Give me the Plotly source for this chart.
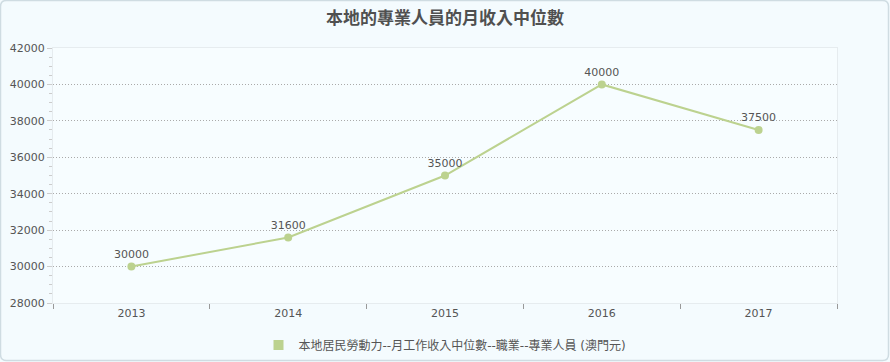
import plotly.graph_objects as go

years = ["2013", "2014", "2015", "2016", "2017"]
values = [30000, 31600, 35000, 40000, 37500]
series_name = "本地居民勞動力--月工作收入中位數--職業--專業人員 (澳門元)"
title_text = "本地的專業人員的月收入中位數"

line_color = "#bcd28f"
text_color = "#555555"
font_family = "DejaVu Sans, Noto Sans CJK TC, sans-serif"

W, H = 890, 362
L, R, T, B = 53, 53, 48, 59
pw, ph = W - L - R, H - T - B


def px(x):
    return (x - L) / pw


def py(y):
    return (H - B - y) / ph


def rounded_path(x0, y0, x1, y1, r):
    pts = [
        f"M {px(x0 + r)},{py(y0)}",
        f"L {px(x1 - r)},{py(y0)}",
        f"Q {px(x1)},{py(y0)} {px(x1)},{py(y0 + r)}",
        f"L {px(x1)},{py(y1 - r)}",
        f"Q {px(x1)},{py(y1)} {px(x1 - r)},{py(y1)}",
        f"L {px(x0 + r)},{py(y1)}",
        f"Q {px(x0)},{py(y1)} {px(x0)},{py(y1 - r)}",
        f"L {px(x0)},{py(y0 + r)}",
        f"Q {px(x0)},{py(y0)} {px(x0 + r)},{py(y0)}",
        "Z",
    ]
    return " ".join(pts)


fig = go.Figure()
fig.add_trace(go.Scatter(
    x=years, y=values, mode="lines+markers+text",
    line=dict(color=line_color, width=2),
    marker=dict(color=line_color, size=8),
    text=[str(v) for v in values], textposition="top center",
    textfont=dict(size=11, color=text_color, family=font_family),
    showlegend=False, cliponaxis=False, hoverinfo="x+y",
))
fig.add_trace(go.Scatter(
    x=[None], y=[None], mode="markers", name=series_name,
    marker=dict(color=line_color, size=10, symbol="square"),
))

fig.update_layout(
    width=W, height=H,
    margin=dict(l=L, r=R, t=T, b=B, autoexpand=False),
    paper_bgcolor="#f4fbfe",
    plot_bgcolor="#f7fdff",
    font=dict(family=font_family, size=11, color=text_color),
    title=dict(text="<b>" + title_text + "</b>", x=0.5, xanchor="center", y=0.95, yanchor="middle",
               font=dict(size=17, color="#505050", family=font_family)),
    legend=dict(orientation="h", x=0.5, xanchor="center", y=-0.165, yanchor="middle",
                font=dict(size=12, color=text_color), bgcolor="rgba(0,0,0,0)",
                itemwidth=30),
    shapes=[dict(type="path", xref="paper", yref="paper", layer="above",
                 path=rounded_path(0.5, 0.5, W - 1.5, H - 1.5, 6),
                 line=dict(color="#cfdce2", width=1.5), fillcolor="rgba(0,0,0,0)")],
)

fig.update_xaxes(
    type="category", range=[-0.5, 4.5],
    showgrid=False, showline=True, linecolor="#e6ecef", linewidth=1, mirror=True,
    ticks="outside", tickson="boundaries", ticklen=5, tickcolor="#999999",
    tickfont=dict(size=11, color=text_color), zeroline=False,
)
fig.update_yaxes(
    range=[28000, 42000], dtick=2000, tick0=28000, tickformat="d",
    showgrid=True, gridcolor="#aaaaaa", griddash="1px,2px", gridwidth=1,
    showline=True, linecolor="#e6ecef", linewidth=1, mirror=True,
    ticks="outside", ticklen=5, tickcolor="#cccccc",
    minor=dict(dtick=500, tick0=28000, ticks="outside", ticklen=3, tickcolor="#cccccc", showgrid=False),
    tickfont=dict(size=11, color=text_color), zeroline=False,
)

fig.write_html("out.html")
